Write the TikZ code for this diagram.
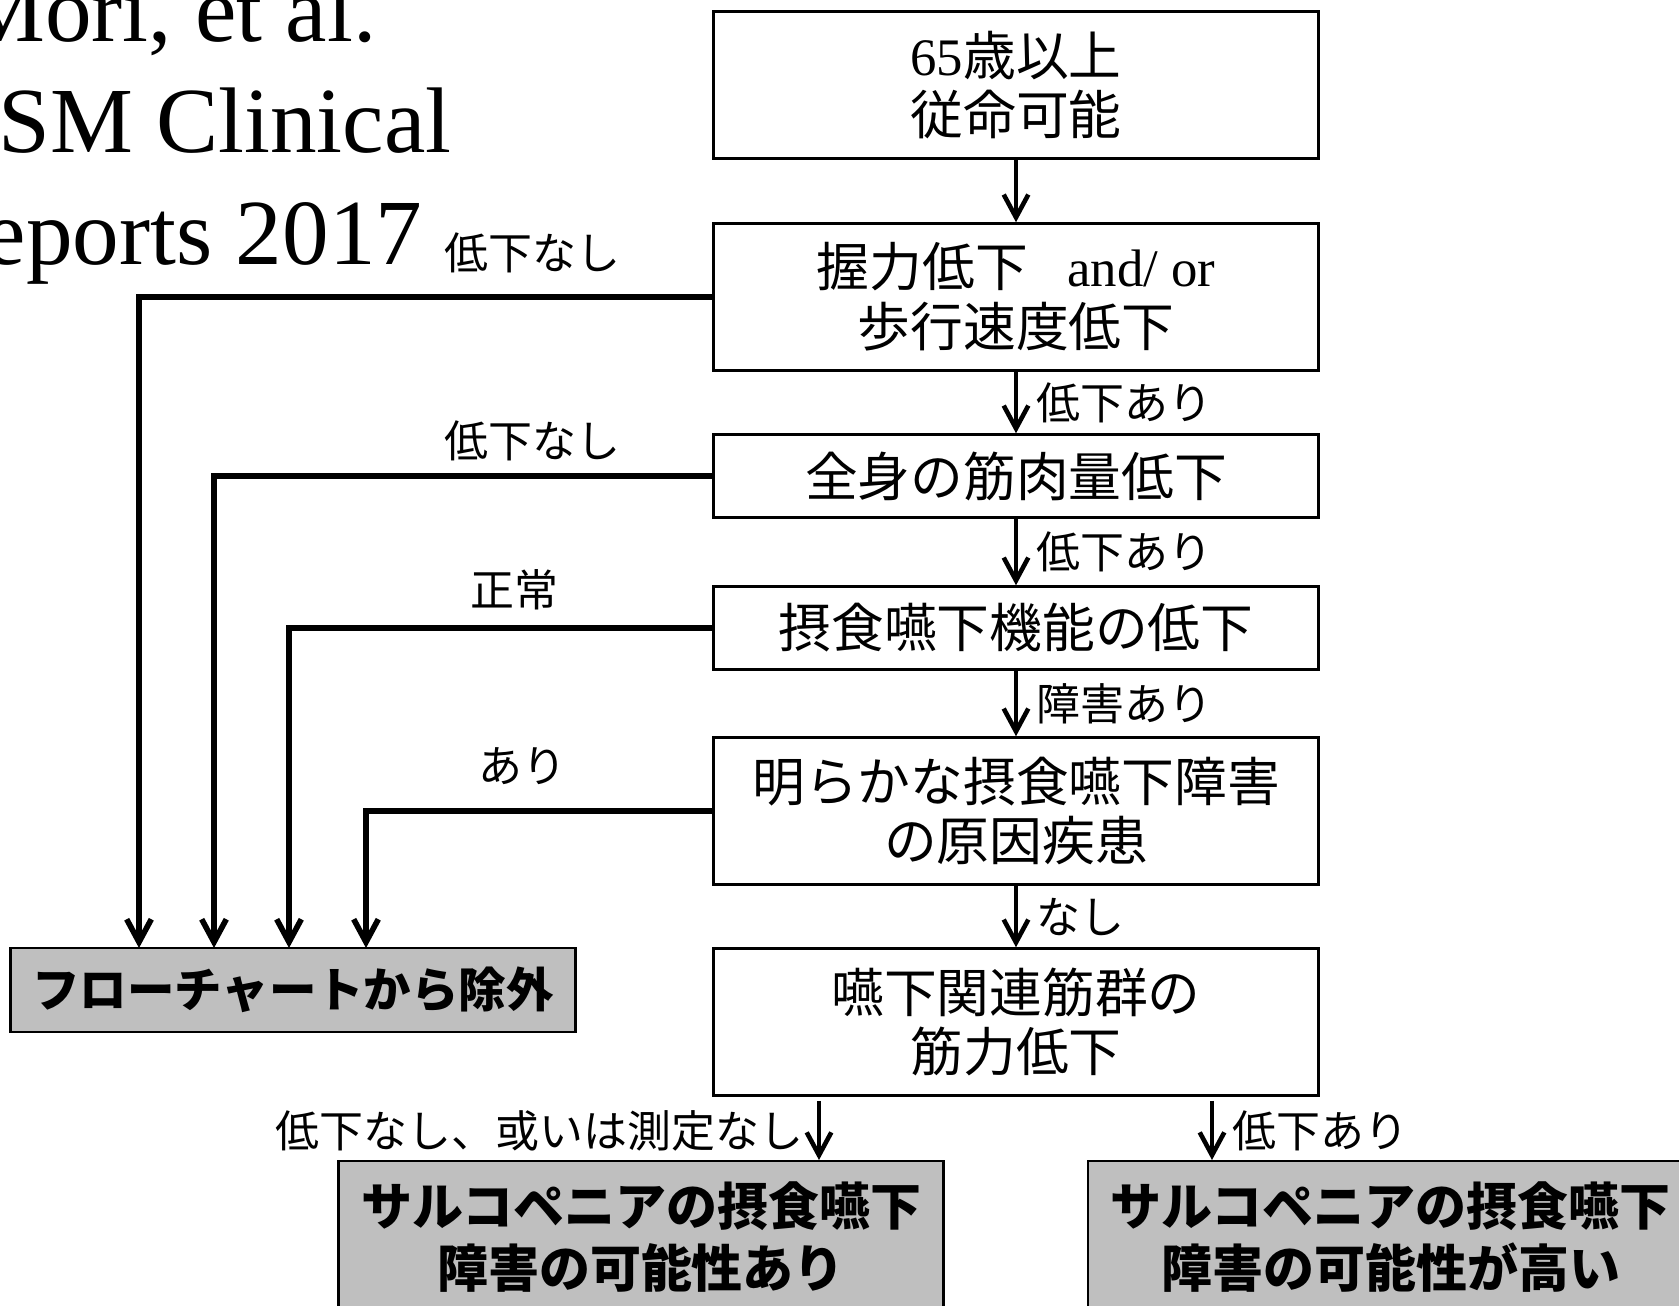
\documentclass[tikz,border=0pt]{standalone}
\usepackage{fontspec}
\setmainfont{Liberation Serif}
\newfontfamily\cjk{Noto Sans CJK JP}
\usetikzlibrary{arrows.meta}
\definecolor{boxgray}{RGB}{191,191,191}
\tikzset{
    >={Straight Barb[length=6.5pt,width=7pt]},
    stepbox/.style={draw,line width=0.7pt,minimum width=6.05cm,inner sep=0pt,align=center,
        font=\cjk\fontsize{15}{17}\selectfont},
    endbox/.style={stepbox,fill=boxgray,font=\cjk\bfseries\fontsize{14.5}{17.5}\selectfont},
    branch/.style={inner sep=1pt,font=\cjk\fontsize{12.5}{14}\selectfont},
    flow/.style={->,line width=1.3pt},
    exitline/.style={->,line width=1.6pt}
}

\begin{document}
\begin{tikzpicture}[x=0.01cm,y=-0.01cm]
        \useasboundingbox (0,0) rectangle (1679,1305);
        \clip (0,0) rectangle (1679,1305);

        % Reference
        \node[anchor=base east,inner sep=0pt,font=\fontsize{26.5}{30}\selectfont] (title1) at (377,41) {Mori, et al.};
        \node[anchor=base east,inner sep=0pt,font=\fontsize{26.5}{30}\selectfont] (title2) at (452,152) {JSM Clinical};
        \node[anchor=base east,inner sep=0pt,font=\fontsize{26.5}{30}\selectfont] (title3) at (423,264) {Reports 2017};

        % Main column
        \node[stepbox,minimum height=1.47cm] (age) at (1016,85) {{\rmfamily 65}歳以上\\従命可能};
        \node[stepbox,minimum height=1.47cm] (grip) at (1016,297) {握力低下\hspace{0.75em}{\rmfamily and/ or}\\歩行速度低下};
        \node[stepbox,minimum height=0.83cm] (mass) at (1016,476) {全身の筋肉量低下};
        \node[stepbox,minimum height=0.83cm] (swallow) at (1016,628) {摂食嚥下機能の低下};
        \node[stepbox,minimum height=1.47cm] (cause) at (1016,811) {明らかな摂食嚥下障害\\の原因疾患};
        \node[stepbox,minimum height=1.47cm] (muscle) at (1016,1022) {嚥下関連筋群の\\筋力低下};

        % Outcomes
        \node[endbox,minimum width=5.65cm,minimum height=0.84cm,font=\cjk\bfseries\fontsize{13.5}{16}\selectfont] (exclude) at (293,990) {フローチャートから除外};
        \node[endbox,minimum height=1.52cm,anchor=north] (possible) at (641,1160) {サルコペニアの摂食嚥下\\障害の可能性あり};
        \node[endbox,minimum height=1.52cm,anchor=north west] (likely) at (1087,1160) {サルコペニアの摂食嚥下\\障害の可能性が高い};

        \coordinate (in1) at (139,948);
        \coordinate (in2) at (214,948);
        \coordinate (in3) at (289,948);
        \coordinate (in4) at (366,948);
        \coordinate (lowleft) at (819,0);
        \coordinate (lowright) at (1212,0);

        % Arrows down
        \draw[flow] (age) -- (grip);
        \draw[flow] (grip) -- node[branch,right=0.15cm] {低下あり} (mass);
        \draw[flow] (mass) -- node[branch,right=0.15cm] {低下あり} (swallow);
        \draw[flow] (swallow) -- node[branch,right=0.15cm] {障害あり} (cause);
        \draw[flow] (cause) -- node[branch,right=0.15cm] {なし} (muscle);
        \draw[flow] ([yshift=-0.04cm]muscle.south -| lowleft) -- node[branch,left=0.1cm] {低下なし、或いは測定なし} (possible.north -| lowleft);
        \draw[flow] ([yshift=-0.04cm]muscle.south -| lowright) -- node[branch,right=0.15cm] {低下あり} (likely.north -| lowright);

        % Exits to the left
        \draw[exitline] (grip.west) -| node[branch,pos=0.157,above=0.18cm] {低下なし} (in1);
        \draw[exitline] (mass.west) -| node[branch,pos=0.18,above=0.09cm] {低下なし} (in2);
        \draw[exitline] (swallow.west) -| node[branch,pos=0.233,above=0.12cm] {正常} (in3);
        \draw[exitline] (cause.west) -| node[branch,pos=0.274,above=0.2cm] {あり} (in4);
\end{tikzpicture}
\end{document}
